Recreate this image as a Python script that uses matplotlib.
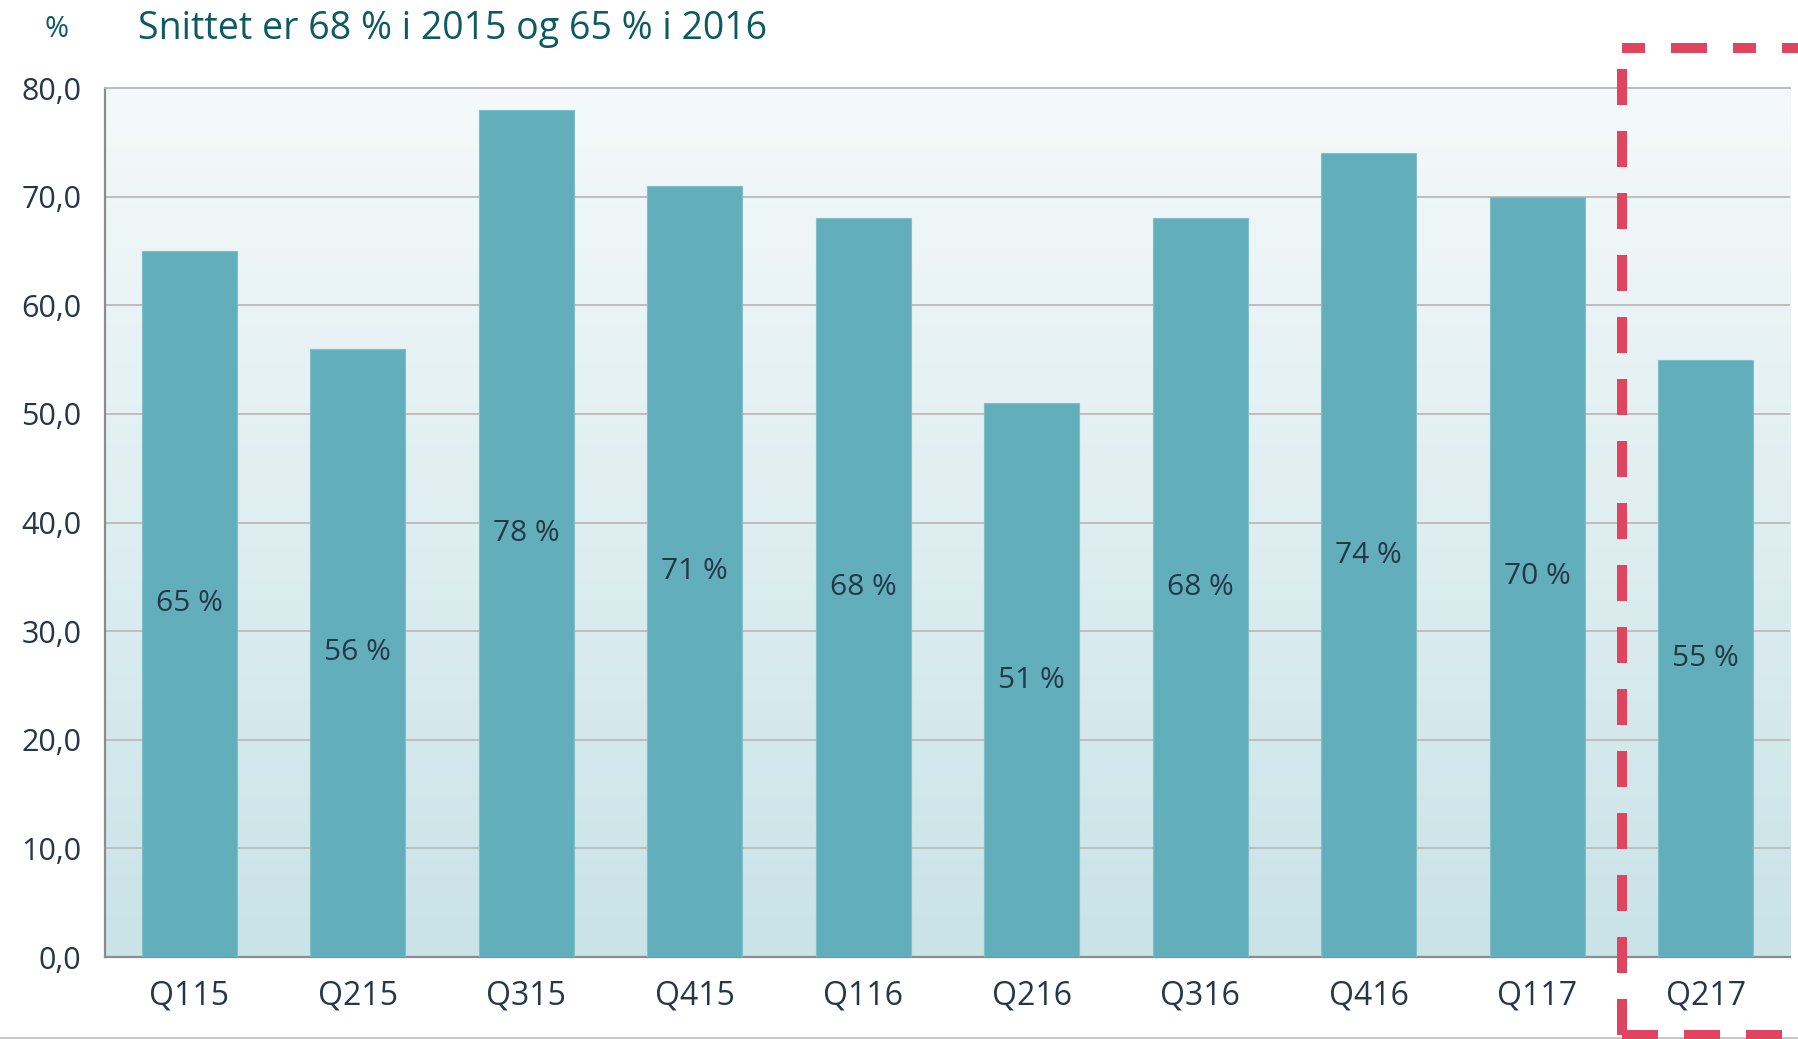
import numpy as np
import matplotlib.pyplot as plt
from matplotlib.lines import Line2D
import matplotlib.transforms as mtransforms
from matplotlib.colors import LinearSegmentedColormap

quarters = ['Q115', 'Q215', 'Q315', 'Q415', 'Q116', 'Q216', 'Q316', 'Q416', 'Q117', 'Q217']
values = [65, 56, 78, 71, 68, 51, 68, 74, 70, 55]
yticks = [0, 10, 20, 30, 40, 50, 60, 70, 80]
title = 'Snittet er 68 % i 2015 og 65 % i 2016'

plt.rcParams['font.family'] = ['Open Sans', 'DejaVu Sans']

bar_col = '#62afbb'
txt_col = '#25374a'
title_col = '#0d5a63'
red = '#e0445f'

fig = plt.figure(figsize=(17.98, 10.39), dpi=100)
ax = fig.add_axes([0.0584, 0.0789, 0.9372, 0.8364])

x = np.arange(len(quarters))

# gradient background
cmap = LinearSegmentedColormap.from_list('bg', ['#c9e3e7', '#f5f9fa'])
grad = np.linspace(0, 1, 256).reshape(-1, 1)
ax.imshow(grad, cmap=cmap, aspect='auto', origin='lower',
          extent=[-0.5, len(quarters) - 0.5, 0, 80], zorder=0)

ax.bar(x, values, width=0.565, color=bar_col, edgecolor='#80bfc8', linewidth=0.8, zorder=3)
for xi, v in zip(x, values):
    ax.text(xi, v / 2, '{} %'.format(v), ha='center', va='center', fontsize=21.5,
            color=txt_col, zorder=4)

ax.set_xlim(-0.5, len(quarters) - 0.5)
ax.set_ylim(0, 80)
ax.set_yticks(yticks)
ax.set_yticklabels(['{:.1f}'.format(t).replace('.', ',') for t in yticks])
ax.set_xticks(x)
ax.set_xticklabels(quarters)
ax.tick_params(axis='both', length=0, colors=txt_col)
ax.tick_params(axis='x', pad=16, labelsize=23)
ax.tick_params(axis='y', pad=17, labelsize=22)
ax.yaxis.grid(True, color='#bdbdbd', linewidth=1.4, zorder=1)
ax.set_axisbelow(True)
ax.spines['right'].set_visible(False)
ax.spines['top'].set_color('#bdbdbd')
ax.spines['top'].set_linewidth(1.4)
ax.spines['left'].set_color('#8a8c8e')
ax.spines['bottom'].set_color('#8a8c8e')
ax.spines['left'].set_linewidth(1.6)
ax.spines['bottom'].set_linewidth(1.6)

fig.text(0.0317, 0.972, '%', fontsize=21, color=title_col, ha='center', va='center')
fig.text(0.0768, 0.972, title, fontsize=27, color=title_col, ha='left', va='center')

# dashed box around the last quarter
trans = mtransforms.blended_transform_factory(ax.transData, fig.transFigure)
top_y, bot_y = 0.954, 0.004
dash = (0, (3.6, 2.6))
for xs, ys, ls in [([8.5, 8.5], [bot_y, top_y], (0, (3.6, 2.6))),
                   ([8.5, 10.5], [top_y, top_y], (0, (2.3, 2.6, 3.6, 2.6))),
                   ([8.5, 10.5], [bot_y, bot_y], dash)]:
    fig.add_artist(Line2D(xs, ys, transform=trans, color=red, linewidth=7.2,
                          linestyle=ls, clip_on=False, dash_capstyle='butt', zorder=10))

# grey line at the bottom of the figure
fig.add_artist(Line2D([0, 1], [0.0012, 0.0012], transform=fig.transFigure,
                      color='#c2bebb', linewidth=1.8))

fig.savefig('out.png', dpi=100)
